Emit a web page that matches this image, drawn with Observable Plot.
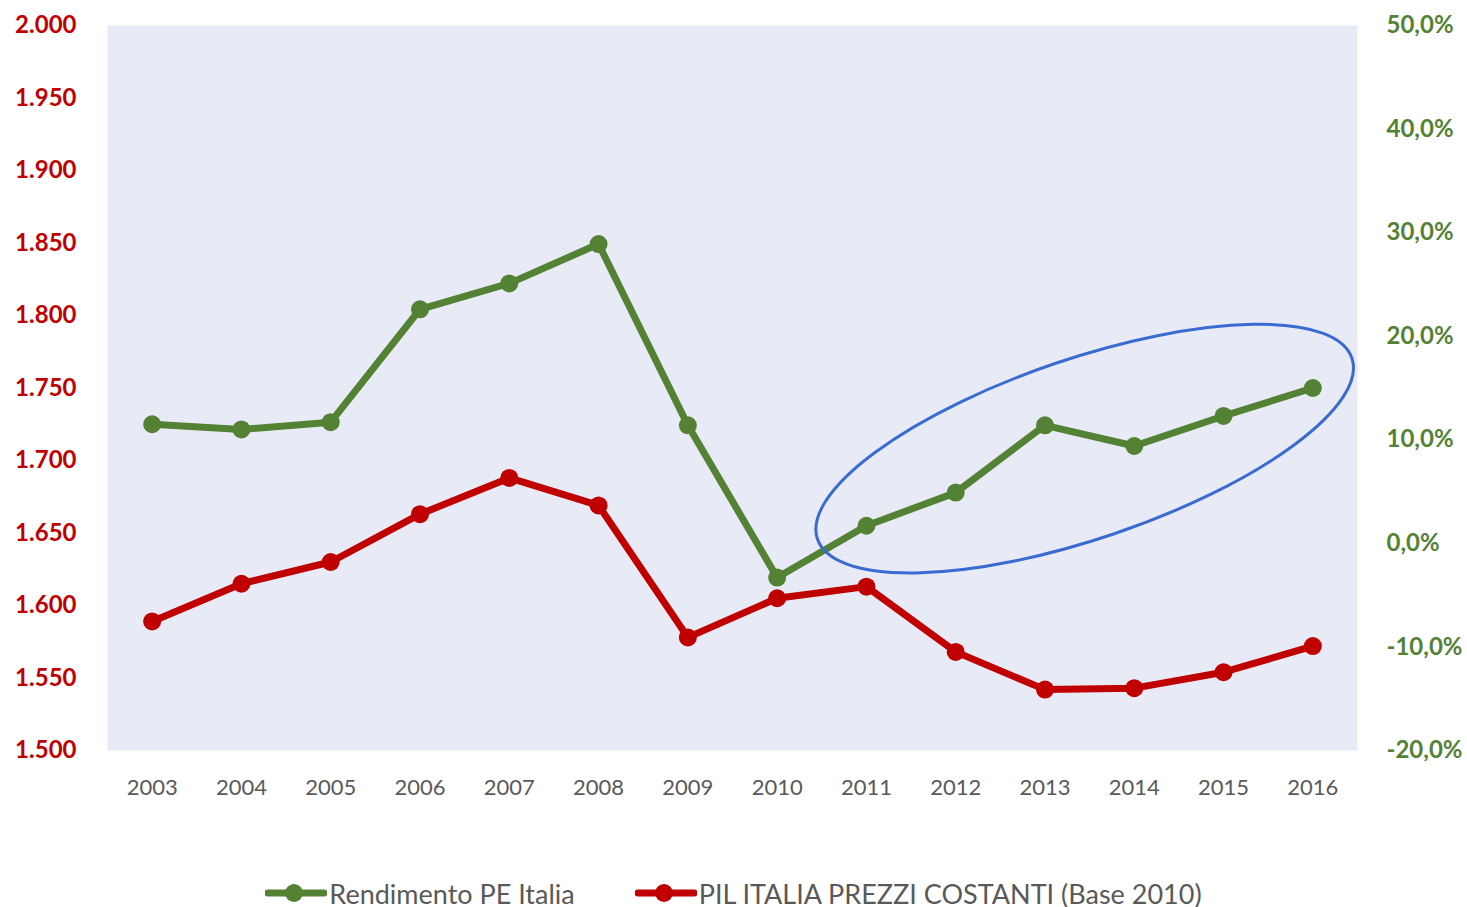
<!DOCTYPE html>
<html>
<head>
<meta charset="utf-8">
<script src="https://cdn.jsdelivr.net/npm/d3@7"></script>
<script src="https://cdn.jsdelivr.net/npm/@observablehq/plot@0.6"></script>
<style>
  html, body { margin: 0; padding: 0; background: #ffffff; }
  body { width: 1467px; height: 907px; overflow: hidden; font-family: Lato, "Open Sans", sans-serif; }
  #legend { display: flex; justify-content: center; align-items: center; gap: 60px; height: 30px; color: #595959; font-size: 27px; }
  .item { display: flex; align-items: center; }
  .item svg { margin-right: 2px; }
</style>
</head>
<body>
<div id="chart"></div>
<div id="legend"></div>
<script>
// ---- data ----
const years = ["2003","2004","2005","2006","2007","2008","2009","2010","2011","2012","2013","2014","2015","2016"];
const rendimentoPct = [11.5, 11.0, 11.7, 22.6, 25.1, 28.9, 11.4, -3.3, 1.7, 4.9, 11.4, 9.4, 12.3, 15.0];
const pilValues = [1589, 1615, 1630, 1663, 1688, 1669, 1578, 1605, 1613, 1568, 1542, 1543, 1554, 1572];
const leftTicks = [1500, 1550, 1600, 1650, 1700, 1750, 1800, 1850, 1900, 1950, 2000];
const rightTicks = [-20, -10, 0, 10, 20, 30, 40, 50];
const seriesNames = ["Rendimento PE Italia", "PIL ITALIA PREZZI COSTANTI (Base 2010)"];
const seriesColors = ["#548235", "#c00000"];
// highlighted region (ellipse) in data units
const highlight = {centerYear: 2013.45, centerPct: 9.1, radiusYears: 3.16, radiusPct: 8.7, angle: -18.7};

// ---- scales helpers ----
const leftDomain = [1500, 2000];
const rightDomain = [-20, 50];
const pctToLeft = p => leftDomain[0] + (p - rightDomain[0]) * (leftDomain[1] - leftDomain[0]) / (rightDomain[1] - rightDomain[0]);
const leftToPct = v => rightDomain[0] + (v - leftDomain[0]) * (rightDomain[1] - rightDomain[0]) / (leftDomain[1] - leftDomain[0]);

const it = d3.formatLocale({decimal: ",", thousands: ".", grouping: [3], currency: ["€", ""], minus: "-"});
const fmtLeft = it.format(",d");
const fmtRight = it.format(".1f");

const green = years.map((y, i) => ({year: y, v: pctToLeft(rendimentoPct[i])}));
const red = years.map((y, i) => ({year: y, v: pilValues[i]}));

const ellipseMark = (index, scales, values, dimensions) => {
  const x = scales.x, y = scales.y;
  const i0 = Math.floor(highlight.centerYear) - 2003;
  const step = x(years[1]) - x(years[0]);
  const cx = x(years[i0]) + (highlight.centerYear - Math.floor(highlight.centerYear)) * step;
  const cy = y(pctToLeft(highlight.centerPct));
  const rx = highlight.radiusYears * step;
  const ry = Math.abs(y(pctToLeft(highlight.radiusPct)) - y(pctToLeft(0)));
  const e = d3.create("svg:ellipse")
    .attr("cx", cx).attr("cy", cy).attr("rx", rx).attr("ry", ry)
    .attr("transform", `rotate(${highlight.angle} ${cx} ${cy})`)
    .attr("fill", "none").attr("stroke", "#3a6bd0").attr("stroke-width", 3);
  return e.node();
};

const chart = Plot.plot({
  width: 1467,
  height: 878,
  marginTop: 25,
  marginBottom: 128,
  marginLeft: 107,
  marginRight: 110,
  style: {fontFamily: "Lato, 'Open Sans', sans-serif", background: "#ffffff"},
  x: {type: "point", domain: years, padding: 0.5, align: 0.5, round: false},
  y: {domain: leftDomain},
  marks: [
    Plot.frame({fill: "#e8ebf5", stroke: null}),
    Plot.axisY(leftTicks, {anchor: "left", tickSize: 0, tickPadding: 31, tickFormat: fmtLeft, fill: "#c00000", fontWeight: "bold", fontSize: 24, label: null}),
    Plot.axisY(rightTicks.map(pctToLeft), {anchor: "right", tickSize: 0, tickPadding: 29, textAnchor: "start", tickFormat: v => fmtRight(leftToPct(v)) + "%", fill: "#548235", fontWeight: "bold", fontSize: 24, label: null}),
    Plot.axisX({anchor: "bottom", tickSize: 0, tickPadding: 29, fill: "#595959", fontSize: 22, label: null}),
    Plot.line(green, {x: "year", y: "v", stroke: seriesColors[0], strokeWidth: 7, strokeLinejoin: "round"}),
    Plot.dot(green, {x: "year", y: "v", r: 9, fill: seriesColors[0]}),
    Plot.line(red, {x: "year", y: "v", stroke: seriesColors[1], strokeWidth: 7, strokeLinejoin: "round"}),
    Plot.dot(red, {x: "year", y: "v", r: 9, fill: seriesColors[1]}),
    ellipseMark
  ]
});
document.getElementById("chart").appendChild(chart);

const legend = d3.select("#legend");
seriesNames.forEach((name, i) => {
  const item = legend.append("div").attr("class", "item");
  const s = item.append("svg").attr("width", 62).attr("height", 24);
  s.append("line").attr("x1", 3).attr("x2", 59).attr("y1", 12).attr("y2", 12)
    .attr("stroke", seriesColors[i]).attr("stroke-width", 7).attr("stroke-linecap", "round");
  s.append("circle").attr("cx", 29).attr("cy", 12).attr("r", 9).attr("fill", seriesColors[i]);
  item.append("span").text(name);
});
</script>
</body>
</html>
